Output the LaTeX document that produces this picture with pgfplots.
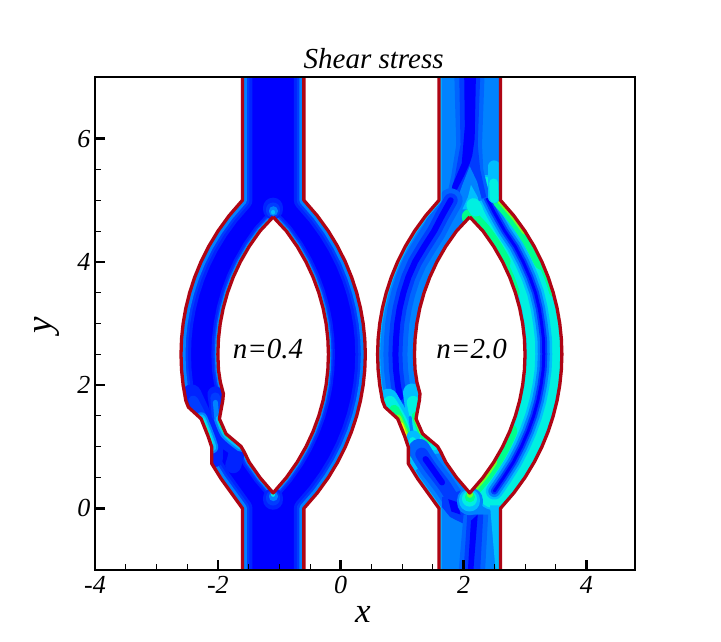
\documentclass[border=0pt]{standalone}
\usepackage{fontspec}
\setmainfont{Liberation Serif}
\usepackage{pgfplots}
\usepackage{pgfplotstable}
\pgfplotsset{compat=1.18}

\definecolor{c0}{RGB}{0,0,255}
\definecolor{cl}{RGB}{0,35,255}
\definecolor{c1}{RGB}{0,60,255}
\definecolor{cm}{RGB}{0,100,255}
\definecolor{c2}{RGB}{0,130,255}
\definecolor{c3}{RGB}{0,190,255}
\definecolor{c4}{RGB}{0,240,225}
\definecolor{c5}{RGB}{0,255,140}
\definecolor{c6}{RGB}{110,255,40}
\definecolor{c7}{RGB}{255,245,0}
\definecolor{wallred}{RGB}{175,5,20}

% walls, x relative to the channel centre; first and last row only close the white mask
\pgfplotstableread{
x y
-1.65 7
-0.5 7
-0.5 5
-0.7172 4.75
-0.8983 4.5
-1.0496 4.25
-1.1751 4
-1.2776 3.75
-1.3593 3.5
-1.4216 3.25
-1.4654 3
-1.4914 2.75
-1.5 2.5
-1.4914 2.25
-1.4654 2
-1.4216 1.75
-1.38 1.643
-1.173 1.454
-1.064 1.184
-0.999 0.994
-0.999 0.725
-0.848 0.482
-0.5 0
-0.5 -1
-1.65 -1
}\wallL
\pgfplotstableread{
x y
1.65 7
0.5 7
0.5 5
0.7172 4.75
0.8983 4.5
1.0496 4.25
1.1751 4
1.2776 3.75
1.3593 3.5
1.4216 3.25
1.4654 3
1.4914 2.75
1.5 2.5
1.4914 2.25
1.4654 2
1.4216 1.75
1.3593 1.5
1.2776 1.25
1.1751 1
1.0496 0.75
0.8983 0.5
0.7172 0.25
0.5 0
0.5 -1
1.65 -1
}\wallR
\pgfplotstableread{
x y
0 4.73
0.2151 4.5
0.3909 4.25
0.5347 4
0.651 3.75
0.743 3.5
0.8126 3.25
0.8615 3
0.8904 2.75
0.9 2.5
0.8904 2.25
0.8615 2
0.8126 1.75
0.743 1.5
0.651 1.25
0.5347 1
0.3909 0.75
0.2151 0.5
0 0.25
-0.2151 0.5
-0.3909 0.75
-0.47 0.913
-0.523 1.005
-0.767 1.21
-0.875 1.454
-0.82 1.75
-0.81 1.86
-0.86 2.05
-0.8904 2.25
-0.9 2.5
-0.8904 2.75
-0.8615 3
-0.8126 3.25
-0.743 3.5
-0.651 3.75
-0.5347 4
-0.3909 4.25
-0.2151 4.5
0 4.73
}\hole
% line down the middle of the right branch, where the stress is lowest
\pgfplotstableread{
x y
0.25 5.1
0.4 4.8
0.57 4.5
0.74 4.25
0.87 4
0.98 3.75
1.07 3.5
1.13 3.25
1.17 3
1.2 2.75
1.205 2.5
1.195 2.25
1.16 2
1.11 1.75
1.04 1.5
0.95 1.25
0.84 1
0.71 0.75
0.55 0.5
0.4 0.28
}\midR
\pgfplotstableread{
x y
-0.31 5
-0.45 4.75
-0.58 4.5
-0.74 4.25
-0.89 4
-1 3.75
-1.08 3.5
-1.14 3.25
-1.18 3
-1.2 2.75
-1.21 2.5
-1.2 2.25
-1.17 2
-1.13 1.8
}\midL

\pgfplotsset{wall only/.style={skip coords between index={0}{1},skip coords between index={24}{25}}}
\newcommand\patch[3]{\addplot[fill=#2,draw=none,forget plot,x filter/.expression={x+#1}] coordinates {#3};}
\newcommand\band[4]{\addplot[draw=#2,line width=#3pt,smooth,line cap=round,line join=round,forget plot,x filter/.expression={x+#1}] coordinates {#4};}
\newcommand\tband[4]{\addplot[draw=#2,line width=#3pt,line cap=round,line join=round,forget plot] table[x expr=\thisrow{x}+#1]{#4};}
\newcommand\wallband[4]{\addplot[draw=#2,line width=#3pt,line join=round,wall only,forget plot] table[x expr=\thisrow{x}+#1]{#4};}
\newcommand\holeband[3]{\addplot[draw=#2,line width=#3pt,line join=round,forget plot] table[x expr=\thisrow{x}+#1]{\hole};}
\newcommand\mask[2]{\addplot[fill=white,draw=none,forget plot] table[x expr=\thisrow{x}+#1]{#2};}

\begin{document}
\begin{tikzpicture}[x=1pt,y=1pt]
\useasboundingbox (-95,-71) rectangle (626,570);
\begin{axis}[
    scale only axis,
    width=540pt, height=493pt,
    xmin=-4, xmax=4.79,
    ymin=-1, ymax=7,
    axis on top,
    no marks,
    xtick={-4,-2,0,2,4},
    ytick={0,2,4,6},
    minor x tick num=3,
    minor y tick num=3,
    tick align=inside,
    xtick pos=bottom,
    ytick pos=left,
    major tick length=10pt,
    minor tick length=6pt,
    major tick style={black,line width=2.5pt},
    minor tick style={black,line width=1pt},
    axis line style={black,line width=2.8pt},
    /pgf/number format/assume math mode=true,
    tick label style={font=\fontsize{26}{26}\selectfont\itshape},
    xticklabel style={yshift=-3pt},
    yticklabel style={xshift=-1pt},
    title={Shear stress},
    title style={font=\fontsize{29}{29}\selectfont\itshape,at={(axis description cs:0.516,1)},anchor=south,yshift=-1pt},
    xlabel={x},
    ylabel={y},
    xlabel style={font=\fontsize{35}{35}\selectfont\itshape,at={(axis description cs:0.496,-0.09)},anchor=center},
    ylabel style={font=\fontsize{37}{37}\selectfont\itshape,at={(axis description cs:-0.088,0.497)},anchor=center},
]
% ---- left channel, n=0.4
\patch{-1.1}{c0}{(-1.65,-1)(1.65,-1)(1.65,7)(-1.65,7)}
\wallband{-1.1}{cl}{20}{\wallL}
\wallband{-1.1}{cl}{20}{\wallR}
\wallband{-1.1}{c1}{14}{\wallL}
\wallband{-1.1}{c1}{14}{\wallR}
\wallband{-1.1}{c2}{9}{\wallL}
\wallband{-1.1}{c2}{9}{\wallR}
\holeband{-1.1}{cl}{13}
\holeband{-1.1}{c1}{9}
\holeband{-1.1}{c2}{6}
\holeband{-1.1}{c3}{3.5}
\band{-1.1}{cl}{20}{(-1.33,1.85)(-1.17,1.5)(-1.05,1.25)(-1,0.95)}
\band{-1.1}{cl}{16}{(-0.94,1.85)(-0.9,1.5)(-0.94,1.15)(-0.95,0.8)}
\band{-1.1}{cl}{16}{(-0.8,1.1)(-0.6,0.95)(-0.65,0.7)}
\band{-1.1}{c1}{10}{(-0.94,1.8)(-0.92,1.5)}
\band{-1.1}{c1}{10}{(-1.3,1.75)(-1.17,1.5)}
\band{-1.1}{c2}{5}{(-0.94,1.72)(-0.92,1.5)}
\band{-1.1}{c2}{13}{(-1.173,1.454)(-1.064,1.184)(-0.999,0.994)}
\band{-1.1}{c3}{9}{(-1.173,1.454)(-1.064,1.184)(-0.999,0.994)}
\band{-1.1}{c4}{6}{(-1.16,1.43)(-1.064,1.184)(-1.02,1.05)}
\band{-1.1}{c6}{3.5}{(-1.12,1.33)(-1.06,1.16)}
\band{-1.1}{c2}{11}{(-0.875,1.454)(-0.767,1.21)(-0.523,1.005)}
\band{-1.1}{c3}{7}{(-0.875,1.454)(-0.767,1.21)(-0.523,1.005)}
\band{-1.1}{c5}{4}{(-0.86,1.4)(-0.767,1.21)(-0.68,1.13)}
\band{-1.1}{cl}{20}{(0,4.85)(0,4.88)}
\band{-1.1}{c1}{14}{(0,4.83)(0,4.85)}
\band{-1.1}{c2}{9}{(0,4.82)(0,4.83)}
\band{-1.1}{c3}{4}{(0,4.8)(0,4.81)}
\band{-1.1}{cl}{20}{(0,0.14)(0,0.17)}
\band{-1.1}{c1}{14}{(0,0.16)(0,0.18)}
\band{-1.1}{c2}{9}{(0,0.19)(0,0.2)}
\band{-1.1}{c4}{4}{(0,0.22)(0,0.23)}

% ---- right channel, n=2.0
\patch{2.1}{c2}{(-1.65,-1)(1.65,-1)(1.65,7)(-1.65,7)}
% right branch: cyan with a dark line in the middle
\tband{2.1}{c3}{38}{\midR}
\tband{2.1}{c4}{34}{\midR}
\tband{2.1}{c3}{17}{\midR}
\tband{2.1}{c2}{12}{\midR}
\tband{2.1}{c1}{7}{\midR}
\tband{2.1}{c0}{3}{\midR}
% bright walls of the right branch
\band{2.1}{c5}{16}{(0.5,5)(0.7172,4.75)(0.8983,4.5)(1.0496,4.25)(1.1751,4)}
\band{2.1}{c5}{8}{(1.1751,4)(1.2776,3.75)(1.3593,3.5)}
\band{2.1}{c6}{7}{(0.5,5)(0.7172,4.75)(0.8983,4.5)}
\band{2.1}{c5}{16}{(0,4.73)(0.2151,4.5)(0.3909,4.25)(0.5347,4)}
\band{2.1}{c5}{9}{(0.5347,4)(0.651,3.75)(0.743,3.5)}
\band{2.1}{c5}{15}{(0,0.25)(0.2151,0.5)(0.3909,0.75)(0.5347,1)(0.651,1.25)}
\band{2.1}{c6}{7}{(0,0.25)(0.2151,0.5)(0.3909,0.75)}
% top channel
\patch{2.1}{cm}{(-0.25,7)(0.24,7)(0.2,5.9)(0.22,5.5)(0.33,5.05)(-0.42,4.85)(-0.3,5.4)(-0.22,5.9)}
\band{2.1}{c3}{12}{(0.4,5.55)(0.4,5.05)}
\band{2.1}{c4}{9}{(0.39,5.28)(0.4,5.03)}
\patch{2.1}{c1}{(-0.17,7)(0.17,7)(0.13,5.9)(0.17,5.5)(0.27,5.05)(-0.35,4.88)(-0.24,5.4)(-0.15,5.9)}
\patch{2.1}{c2}{(0,5.55)(0.12,5.3)(0.2,5)(-0.25,4.88)(-0.12,5.25)}
\patch{2.1}{c3}{(0.02,5.25)(0.13,5.05)(0.17,4.85)(-0.12,4.85)(-0.03,5.05)}
\band{2.1}{c4}{14}{(0.06,4.92)(0.1,4.85)}
\patch{2.1}{c0}{(-0.09,7)(0.1,7)(0.08,6)(0.04,5.72)(0,5.6)(-0.09,5.4)(-0.22,5.15)(-0.33,5)(-0.28,5.25)(-0.13,5.6)(-0.08,6.2)}
% left branch
\tband{2.1}{cm}{24}{\midL}
\tband{2.1}{c1}{14}{\midL}
\tband{2.1}{c0}{6}{\midL}
\wallband{2.1}{c3}{5}{\wallL}
% obstruction on the lower left
\band{2.1}{c3}{20}{(-1.33,1.78)(-1.17,1.5)(-1.05,1.25)(-1,0.95)(-0.97,0.75)}
\band{2.1}{c4}{13}{(-1.3,1.72)(-1.17,1.5)(-1.05,1.25)(-0.98,0.9)}
\band{2.1}{c5}{10}{(-1.23,1.6)(-1.15,1.45)(-1.05,1.22)(-1,1)}
\band{2.1}{c6}{7}{(-1.17,1.47)(-1.06,1.22)(-1.02,1.08)}
\band{2.1}{c7}{4.5}{(-1.12,1.36)(-1.05,1.16)}
\band{2.1}{c3}{18}{(-0.94,1.88)(-0.88,1.5)(-0.78,1.2)(-0.55,1.03)}
\band{2.1}{c4}{13}{(-0.92,1.72)(-0.86,1.45)(-0.76,1.2)(-0.58,1.05)}
\band{2.1}{c5}{9}{(-0.87,1.5)(-0.76,1.22)(-0.66,1.12)}
\band{2.1}{c6}{5}{(-0.87,1.45)(-0.78,1.24)}
\band{2.1}{c2}{3}{(-0.97,1.48)(-0.94,1.2)}
\band{2.1}{c3}{14}{(-0.92,1.15)(-0.95,0.8)}
\band{2.1}{c4}{7}{(-0.93,1.1)(-0.95,0.85)}
% below the obstruction
\band{2.1}{cm}{22}{(-0.82,0.95)(-0.65,0.68)(-0.4,0.35)(-0.15,-0.03)}
\band{2.1}{c1}{13}{(-0.78,0.88)(-0.65,0.68)(-0.4,0.35)(-0.2,0.02)}
\band{2.1}{c0}{6}{(-0.72,0.8)(-0.62,0.66)(-0.45,0.42)}
\patch{2.1}{c1}{(-0.45,0.18)(-0.15,0.29)(0.01,-0.03)(-0.1,-0.25)(-0.32,-0.14)(-0.45,0.02)}
\patch{2.1}{c0}{(-0.35,0.15)(-0.2,0.1)(-0.15,-0.1)(-0.3,-0.05)}
\patch{2.1}{cm}{(-0.1,-0.1)(0.3,-0.1)(0.25,-1)(-0.18,-1)}
\patch{2.1}{c1}{(-0.04,-0.1)(0.22,-0.1)(0.17,-1)(-0.1,-1)}
\patch{2.1}{c0}{(0.02,-0.2)(0.13,-0.1)(0.06,-1)(-0.03,-1)}
\patch{2.1}{c3}{(0.33,0.05)(0.52,0.05)(0.52,-1)(0.42,-1)}
\band{2.1}{c2}{26}{(0,0.1)(0,0.13)}
\band{2.1}{c3}{21}{(0,0.12)(0,0.14)}
\band{2.1}{c4}{15}{(0,0.15)(0,0.16)}
\band{2.1}{c5}{10}{(0,0.18)(0,0.19)}
\band{2.1}{c6}{6}{(0,0.22)(0,0.23)}
\band{2.1}{c7}{3}{(0,0.25)(0,0.26)}

% ---- white outside the walls
\mask{-1.1}{\wallL}
\mask{-1.1}{\wallR}
\mask{2.1}{\wallL}
\mask{2.1}{\wallR}
\mask{-1.1}{\hole}
\mask{2.1}{\hole}
\patch{0}{white}{(-4,-1)(-2.7,-1)(-2.7,7)(-4,7)}
\patch{0}{white}{(3.7,-1)(4.79,-1)(4.79,7)(3.7,7)}
% ---- walls
\wallband{-1.1}{wallred}{3.3}{\wallL}
\wallband{-1.1}{wallred}{3.3}{\wallR}
\wallband{2.1}{wallred}{3.3}{\wallL}
\wallband{2.1}{wallred}{3.3}{\wallR}
\holeband{-1.1}{wallred}{3.3}
\holeband{2.1}{wallred}{3.3}

\node[font=\fontsize{29}{29}\selectfont\itshape] at (axis cs:-1.185,2.59) {n=0.4};
\node[font=\fontsize{29}{29}\selectfont\itshape] at (axis cs:2.13,2.59) {n=2.0};
\end{axis}
\end{tikzpicture}
\end{document}
